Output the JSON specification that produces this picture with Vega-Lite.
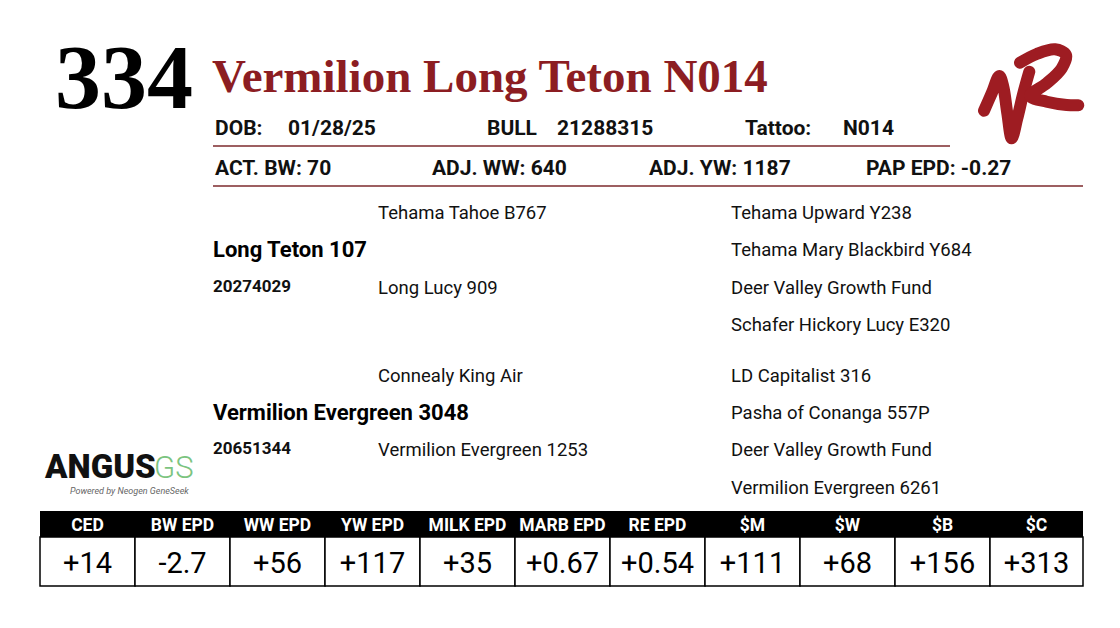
{
  "$schema": "https://vega.github.io/schema/vega-lite/v6.json",
  "width": 1120,
  "height": 628,
  "padding": 0,
  "autosize": {"type": "none"},
  "background": "white",
  "config": {"view": {"stroke": null}, "axis": {"disable": true}, "legend": {"disable": true}},
  "datasets": {
    "texts": [
      {"role": "lot", "x": 55, "y": 108, "text": "334"},
      {"role": "title", "x": 212, "y": 92, "text": "Vermilion Long Teton N014"},
      {"role": "head", "x": 215, "y": 135, "text": "DOB:"},
      {"role": "head", "x": 288, "y": 135, "text": "01/28/25"},
      {"role": "head", "x": 487, "y": 135, "text": "BULL"},
      {"role": "head", "x": 557, "y": 135, "text": "21288315"},
      {"role": "head", "x": 745, "y": 135, "text": "Tattoo:"},
      {"role": "head", "x": 843, "y": 135, "text": "N014"},
      {"role": "head", "x": 215, "y": 175, "text": "ACT. BW: 70"},
      {"role": "head", "x": 432, "y": 175, "text": "ADJ. WW: 640"},
      {"role": "head", "x": 649, "y": 175, "text": "ADJ. YW: 1187"},
      {"role": "head", "x": 866, "y": 175, "text": "PAP EPD: -0.27"},
      {"role": "ped", "x": 378, "y": 219, "text": "Tehama Tahoe B767"},
      {"role": "ped", "x": 378, "y": 294, "text": "Long Lucy 909"},
      {"role": "ped", "x": 731, "y": 219, "text": "Tehama Upward Y238"},
      {"role": "ped", "x": 731, "y": 256, "text": "Tehama Mary Blackbird Y684"},
      {"role": "ped", "x": 731, "y": 294, "text": "Deer Valley Growth Fund"},
      {"role": "ped", "x": 731, "y": 331, "text": "Schafer Hickory Lucy E320"},
      {"role": "ped", "x": 378, "y": 382, "text": "Connealy King Air"},
      {"role": "ped", "x": 378, "y": 456, "text": "Vermilion Evergreen 1253"},
      {"role": "ped", "x": 731, "y": 382, "text": "LD Capitalist 316"},
      {"role": "ped", "x": 731, "y": 419, "text": "Pasha of Conanga 557P"},
      {"role": "ped", "x": 731, "y": 456, "text": "Deer Valley Growth Fund"},
      {"role": "ped", "x": 731, "y": 494, "text": "Vermilion Evergreen 6261"},
      {"role": "parent", "x": 213, "y": 257, "text": "Long Teton 107"},
      {"role": "parent", "x": 213, "y": 420, "text": "Vermilion Evergreen 3048"},
      {"role": "reg", "x": 213, "y": 292, "text": "20274029"},
      {"role": "reg", "x": 213, "y": 454, "text": "20651344"},
      {"role": "angus", "x": 45, "y": 478, "text": "ANGUS"},
      {"role": "gs", "x": 154, "y": 478, "text": "GS"},
      {"role": "powered", "x": 70, "y": 494, "text": "Powered by Neogen GeneSeek"}
    ],
    "rules": [
      {"x": 213, "x2": 950, "y": 146},
      {"x": 213, "x2": 1083, "y": 186}
    ],
    "epd": [
      {"label": "CED", "value": "+14", "x0": 40, "x1": 135},
      {"label": "BW EPD", "value": "-2.7", "x0": 135, "x1": 230},
      {"label": "WW EPD", "value": "+56", "x0": 230, "x1": 325},
      {"label": "YW EPD", "value": "+117", "x0": 325, "x1": 420},
      {"label": "MILK EPD", "value": "+35", "x0": 420, "x1": 515},
      {"label": "MARB EPD", "value": "+0.67", "x0": 515, "x1": 610},
      {"label": "RE EPD", "value": "+0.54", "x0": 610, "x1": 705},
      {"label": "$M", "value": "+111", "x0": 705, "x1": 800},
      {"label": "$W", "value": "+68", "x0": 800, "x1": 895},
      {"label": "$B", "value": "+156", "x0": 895, "x1": 990},
      {"label": "$C", "value": "+313", "x0": 990, "x1": 1083}
    ],
    "logo": [
      {"s": "a", "i": 1, "x": 984, "y": 110.7},
      {"s": "a", "i": 2, "x": 991.7, "y": 93.3},
      {"s": "a", "i": 3, "x": 999.3, "y": 76},
      {"s": "a", "i": 4, "x": 1003.3, "y": 86.7},
      {"s": "a", "i": 5, "x": 1007.3, "y": 113.3},
      {"s": "a", "i": 6, "x": 1011.7, "y": 138.3},
      {"s": "a", "i": 7, "x": 1017.3, "y": 118.3},
      {"s": "a", "i": 8, "x": 1023.3, "y": 93.3},
      {"s": "a", "i": 9, "x": 1029.3, "y": 71.7},
      {"s": "b", "i": 1, "x": 1020, "y": 62.7},
      {"s": "b", "i": 2, "x": 1036.7, "y": 54},
      {"s": "b", "i": 3, "x": 1055, "y": 49.3},
      {"s": "b", "i": 4, "x": 1066, "y": 55},
      {"s": "b", "i": 5, "x": 1061.7, "y": 68.3},
      {"s": "b", "i": 6, "x": 1046.7, "y": 83.3},
      {"s": "b", "i": 7, "x": 1030, "y": 96},
      {"s": "b", "i": 8, "x": 1046.7, "y": 101.7},
      {"s": "b", "i": 9, "x": 1066.7, "y": 105},
      {"s": "b", "i": 10, "x": 1078.3, "y": 105.3}
    ]
  },
  "encoding": {
    "x": {"field": "x", "type": "quantitative", "scale": {"domain": [0, 1120], "range": [0, 1120], "nice": false, "zero": false}},
    "y": {"field": "y", "type": "quantitative", "scale": {"domain": [0, 628], "range": [0, 628], "nice": false, "zero": false}}
  },
  "layer": [
    {
      "data": {"name": "rules"},
      "mark": {"type": "rule", "color": "#7d2a2c", "strokeWidth": 1.5},
      "encoding": {"x2": {"field": "x2"}}
    },
    {
      "data": {"name": "epd"},
      "transform": [{"calculate": "511", "as": "yt"}, {"calculate": "537", "as": "yb"}],
      "mark": {"type": "rect", "fill": "#000000"},
      "encoding": {"x": {"field": "x0", "type": "quantitative"}, "x2": {"field": "x1"}, "y": {"field": "yt", "type": "quantitative"}, "y2": {"field": "yb"}}
    },
    {
      "data": {"name": "epd"},
      "transform": [{"calculate": "537", "as": "yt"}, {"calculate": "586", "as": "yb"}],
      "mark": {"type": "rect", "fill": "#ffffff", "stroke": "#000000", "strokeWidth": 1.5},
      "encoding": {"x": {"field": "x0", "type": "quantitative"}, "x2": {"field": "x1"}, "y": {"field": "yt", "type": "quantitative"}, "y2": {"field": "yb"}}
    },
    {
      "data": {"name": "epd"},
      "transform": [{"calculate": "(datum.x0 + datum.x1) / 2", "as": "xc"}, {"calculate": "531", "as": "yc"}],
      "mark": {"type": "text", "color": "#ffffff", "font": "Roboto", "fontWeight": "bold", "fontSize": 17.5, "align": "center", "baseline": "alphabetic"},
      "encoding": {"x": {"field": "xc", "type": "quantitative"}, "y": {"field": "yc", "type": "quantitative"}, "text": {"field": "label"}}
    },
    {
      "data": {"name": "epd"},
      "transform": [{"calculate": "(datum.x0 + datum.x1) / 2", "as": "xc"}, {"calculate": "573", "as": "yc"}],
      "mark": {"type": "text", "color": "#000000", "font": "Roboto", "fontSize": 29, "align": "center", "baseline": "alphabetic"},
      "encoding": {"x": {"field": "xc", "type": "quantitative"}, "y": {"field": "yc", "type": "quantitative"}, "text": {"field": "value"}}
    },
    {
      "data": {"name": "logo"},
      "mark": {"type": "line", "color": "#9e1c22", "strokeWidth": 12, "strokeCap": "round", "strokeJoin": "round", "interpolate": "catmull-rom"},
      "encoding": {"detail": {"field": "s", "type": "nominal"}, "order": {"field": "i", "type": "quantitative"}}
    },
    {
      "data": {"name": "texts"},
      "transform": [{"filter": "datum.role === 'lot'"}],
      "mark": {"type": "text", "font": "Liberation Serif", "fontWeight": "bold", "fontSize": 92, "color": "#000000", "align": "left", "baseline": "alphabetic"},
      "encoding": {"text": {"field": "text"}}
    },
    {
      "data": {"name": "texts"},
      "transform": [{"filter": "datum.role === 'title'"}],
      "mark": {"type": "text", "font": "Liberation Serif", "fontWeight": "bold", "fontSize": 47, "color": "#8c1d22", "align": "left", "baseline": "alphabetic"},
      "encoding": {"text": {"field": "text"}}
    },
    {
      "data": {"name": "texts"},
      "transform": [{"filter": "datum.role === 'head'"}],
      "mark": {"type": "text", "font": "Roboto", "fontWeight": "bold", "fontSize": 21, "color": "#111111", "align": "left", "baseline": "alphabetic"},
      "encoding": {"text": {"field": "text"}}
    },
    {
      "data": {"name": "texts"},
      "transform": [{"filter": "datum.role === 'ped'"}],
      "mark": {"type": "text", "font": "Roboto", "fontSize": 18.5, "color": "#111111", "align": "left", "baseline": "alphabetic"},
      "encoding": {"text": {"field": "text"}}
    },
    {
      "data": {"name": "texts"},
      "transform": [{"filter": "datum.role === 'parent'"}],
      "mark": {"type": "text", "font": "Roboto", "fontWeight": "bold", "fontSize": 22, "color": "#000000", "align": "left", "baseline": "alphabetic"},
      "encoding": {"text": {"field": "text"}}
    },
    {
      "data": {"name": "texts"},
      "transform": [{"filter": "datum.role === 'reg'"}],
      "mark": {"type": "text", "font": "Roboto", "fontWeight": "bold", "fontSize": 17, "color": "#111111", "align": "left", "baseline": "alphabetic"},
      "encoding": {"text": {"field": "text"}}
    },
    {
      "data": {"name": "texts"},
      "transform": [{"filter": "datum.role === 'angus'"}],
      "mark": {"type": "text", "font": "Roboto", "fontWeight": 900, "fontSize": 33, "color": "#111111", "align": "left", "baseline": "alphabetic"},
      "encoding": {"text": {"field": "text"}}
    },
    {
      "data": {"name": "texts"},
      "transform": [{"filter": "datum.role === 'gs'"}],
      "mark": {"type": "text", "font": "Roboto", "fontWeight": 300, "fontSize": 31, "color": "#7cc47f", "align": "left", "baseline": "alphabetic"},
      "encoding": {"text": {"field": "text"}}
    },
    {
      "data": {"name": "texts"},
      "transform": [{"filter": "datum.role === 'powered'"}],
      "mark": {"type": "text", "font": "Roboto", "fontStyle": "italic", "fontSize": 9, "color": "#666666", "align": "left", "baseline": "alphabetic"},
      "encoding": {"text": {"field": "text"}}
    }
  ]
}
